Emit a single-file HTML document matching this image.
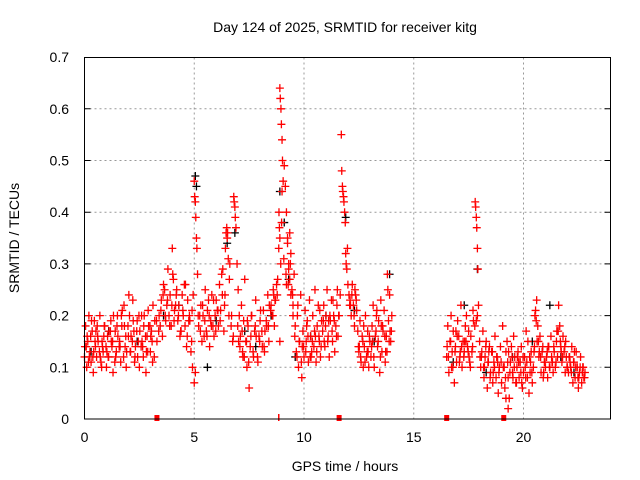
<!DOCTYPE html>
<html><head><meta charset="utf-8"><style>
body{margin:0;background:#fff}
svg{display:block;font-family:"Liberation Sans",sans-serif}
</style></head><body>
<svg id="chart" width="640" height="480" viewBox="0 0 640 480" xmlns="http://www.w3.org/2000/svg">
<rect width="640" height="480" fill="#fff"/>
<text x="345" y="32" font-size="14" text-anchor="middle">Day 124 of 2025, SRMTID for receiver kitg</text>
<g id="grid"></g>
<g id="ticks"></g>
<g id="marks"></g>
<rect x="84.5" y="57.5" width="526" height="361.5" fill="none" stroke="#000" stroke-width="1"/>
<text x="345" y="471" font-size="14" text-anchor="middle">GPS time / hours</text>
<text transform="translate(19,238) rotate(-90)" font-size="14" text-anchor="middle">SRMTID / TECUs</text>
</svg>
<script>
const xTicks=[0,5,10,15,20];
const yTicks=[0,0.1,0.2,0.3,0.4,0.5,0.6,0.7];
const yTickLabels=["0","0.1","0.2","0.3","0.4","0.5","0.6","0.7"];
const redT=[
0,0.05,0.1,0.15,0.2,0.25,0.3,0.35,0.4,0.45,0.5,0.55,0.6,0.7,0.75,0.8,0.85,0.9,1.0,1.05,1.1,1.2,1.25,1.3,1.4,1.45,1.5,1.6,1.65,1.7,1.8,1.85,1.9,2.0,2.05,2.1,2.2,2.25,2.3,2.4,2.45,2.5,2.6,2.65,2.7,2.8,2.85,2.9,3.0,3.05,3.1,3.2,3.3,
0.02,0.12,0.22,0.32,0.42,0.52,0.62,0.72,0.82,0.92,1.02,1.12,1.22,1.32,1.42,1.52,1.62,1.72,1.82,1.92,2.02,2.12,2.22,2.32,2.42,2.52,2.62,2.72,2.82,2.92,3.02,3.12,
3.4,3.5,3.55,3.6,3.7,3.75,3.8,3.9,3.95,4.0,4.05,4.1,4.2,4.25,4.3,4.4,4.45,4.5,4.6,4.65,4.7,4.8,4.85,4.9,4.95,
3.45,3.65,3.85,4.02,4.15,4.35,4.55,4.75,4.92,
5.0,5.02,5.05,5.07,5.1,5.12,5.15,5.0,5.05,
5.2,5.3,5.35,5.4,5.5,5.55,5.6,5.7,5.75,5.8,5.9,5.95,6.0,6.1,6.15,6.2,6.3,6.35,6.4,6.45,6.5,6.55,6.6,6.7,6.75,
5.25,5.45,5.65,5.85,6.05,6.25,6.42,6.48,6.52,6.62,
6.8,6.82,6.85,6.87,6.9,6.95,7.0,7.05,7.1,7.15,7.2,7.25,7.3,7.35,7.4,7.45,7.5,7.55,7.6,7.7,7.75,7.8,7.9,7.95,8.0,8.1,8.15,8.2,8.3,8.35,8.4,8.5,8.55,8.6,8.65,8.7,8.75,
7.02,7.22,7.42,7.62,7.82,8.02,8.22,8.42,8.62,8.8,
8.85,8.88,8.9,8.92,8.95,8.97,9.0,9.02,9.05,8.86,8.9,8.94,8.98,9.0,8.9,
9.1,9.15,9.2,9.25,9.3,9.35,9.4,9.45,9.5,9.55,9.2,9.25,9.3,9.35,9.4,9.5,
9.6,9.65,9.7,9.75,9.8,9.85,9.9,9.95,10.0,10.05,10.1,10.15,10.2,10.25,10.3,10.35,10.4,10.45,10.5,10.55,10.6,10.65,10.7,10.75,10.8,
9.72,9.92,10.12,10.32,10.52,10.72,
10.85,10.9,10.95,11.0,11.05,11.1,11.15,11.2,11.25,11.3,11.35,11.4,11.45,11.5,11.55,11.6,11.65,
10.92,11.12,11.32,11.52,
11.7,11.72,11.75,11.77,11.8,11.82,11.85,11.88,11.9,11.92,11.95,11.98,12.0,12.05,
12.1,12.15,12.2,12.25,12.3,12.35,12.4,12.45,12.5,12.55,12.6,12.65,12.7,12.75,12.8,12.85,12.9,12.95,13.0,
12.12,12.32,12.52,12.72,12.92,
13.05,13.1,13.15,13.2,13.25,13.3,13.35,13.4,13.45,13.5,13.55,13.6,13.65,13.7,13.75,13.8,13.85,13.9,13.95,14.0,
13.12,13.32,13.52,13.72,13.82,13.92,
16.5,16.55,16.6,16.65,16.7,16.75,16.8,16.85,16.9,16.95,17.0,17.05,17.1,17.15,17.2,17.25,17.3,17.35,17.4,17.45,17.5,17.55,17.6,17.65,17.7,
16.52,16.72,16.92,17.12,17.32,17.52,17.72,
17.8,17.82,17.85,17.87,17.9,17.92,17.95,17.85,17.9,
18.0,18.05,18.1,18.15,18.2,18.25,18.3,18.35,18.4,18.45,18.5,18.55,18.6,18.65,18.7,18.75,18.8,18.85,18.9,18.95,19.0,
18.02,18.22,18.42,18.62,18.82,
19.05,19.1,19.15,19.2,19.25,19.3,19.35,19.4,19.45,19.5,19.55,19.6,19.65,19.7,19.75,19.8,19.85,19.9,19.95,20.0,
19.12,19.32,19.52,19.72,19.92,19.3,19.2,
20.05,20.1,20.15,20.2,20.25,20.3,20.35,20.4,20.45,20.5,20.55,20.6,20.65,20.7,20.75,20.8,20.85,20.9,20.95,21.0,
20.12,20.32,20.52,20.62,20.72,20.92,
21.05,21.1,21.15,21.2,21.25,21.3,21.35,21.4,21.45,21.5,21.55,21.6,21.65,21.7,21.75,21.8,21.85,21.9,21.95,22.0,
21.12,21.32,21.52,21.72,21.92,
22.05,22.1,22.15,22.2,22.25,22.3,22.35,22.4,22.45,22.5,22.55,22.6,22.65,22.7,22.75,22.8,
22.12,22.32,22.52,22.72
];
const redV=[
0.12,0.18,0.1,0.15,0.2,0.13,0.11,0.17,0.09,0.19,0.14,0.12,0.16,0.2,0.11,0.15,0.13,0.18,0.1,0.16,0.12,0.19,0.14,0.09,0.17,0.13,0.2,0.15,0.11,0.18,0.22,0.14,0.1,0.16,0.2,0.13,0.23,0.17,0.12,0.19,0.15,0.1,0.2,0.14,0.18,0.09,0.16,0.21,0.13,0.17,0.11,0.19,0.15,
0.14,0.16,0.12,0.19,0.13,0.17,0.15,0.12,0.14,0.18,0.13,0.17,0.15,0.2,0.12,0.16,0.14,0.21,0.18,0.13,0.24,0.16,0.19,0.14,0.12,0.17,0.15,0.2,0.13,0.18,0.16,0.22,
0.2,0.23,0.16,0.26,0.19,0.22,0.29,0.24,0.18,0.33,0.27,0.21,0.25,0.19,0.22,0.17,0.24,0.2,0.26,0.14,0.23,0.19,0.13,0.21,0.24,
0.18,0.25,0.2,0.28,0.22,0.16,0.26,0.19,0.1,
0.46,0.43,0.42,0.39,0.35,0.33,0.28,0.07,0.09,
0.18,0.22,0.15,0.2,0.25,0.17,0.21,0.14,0.19,0.24,0.16,0.2,0.23,0.18,0.26,0.21,0.29,0.17,0.24,0.36,0.35,0.31,0.27,0.2,0.15,
0.2,0.16,0.23,0.18,0.21,0.28,0.33,0.37,0.36,0.3,
0.43,0.42,0.41,0.39,0.37,0.3,0.25,0.2,0.16,0.22,0.13,0.19,0.27,0.15,0.1,0.18,0.06,0.14,0.2,0.12,0.17,0.23,0.11,0.16,0.19,0.14,0.21,0.13,0.18,0.24,0.15,0.22,0.2,0.25,0.18,0.23,0.26,
0.15,0.12,0.19,0.2,0.16,0.21,0.17,0.22,0.24,0.27,
0.33,0.37,0.64,0.62,0.6,0.57,0.54,0.5,0.46,0.4,0.35,0.3,0.38,0.44,0.15,
0.49,0.45,0.4,0.35,0.3,0.27,0.32,0.25,0.22,0.28,0.26,0.34,0.29,0.36,0.24,0.2,
0.18,0.13,0.2,0.1,0.15,0.24,0.08,0.17,0.12,0.21,0.15,0.19,0.11,0.23,0.16,0.13,0.2,0.14,0.25,0.11,0.18,0.22,0.15,0.12,0.19,
0.22,0.14,0.18,0.12,0.16,0.21,
0.17,0.22,0.14,0.2,0.25,0.16,0.12,0.19,0.23,0.15,0.2,0.13,0.18,0.22,0.16,0.2,0.24,
0.15,0.19,0.23,0.25,
0.55,0.48,0.45,0.44,0.43,0.42,0.4,0.38,0.32,0.3,0.29,0.33,0.26,0.24,
0.23,0.2,0.26,0.22,0.18,0.24,0.21,0.17,0.13,0.19,0.11,0.16,0.1,0.14,0.2,0.12,0.17,0.1,0.15,
0.22,0.25,0.14,0.18,0.13,
0.12,0.18,0.22,0.1,0.16,0.2,0.14,0.19,0.09,0.23,0.13,0.17,0.21,0.11,0.16,0.28,0.19,0.24,0.15,0.2,
0.15,0.21,0.18,0.13,0.25,0.17,
0.12,0.18,0.09,0.15,0.2,0.13,0.17,0.07,0.14,0.11,0.19,0.16,0.12,0.22,0.1,0.15,0.13,0.18,0.2,0.14,0.17,0.11,0.16,0.13,0.21,
0.14,0.1,0.17,0.13,0.15,0.12,0.19,
0.42,0.41,0.39,0.37,0.33,0.29,0.22,0.19,0.2,
0.15,0.1,0.13,0.17,0.08,0.12,0.15,0.06,0.11,0.14,0.09,0.13,0.07,0.11,0.16,0.08,0.12,0.05,0.1,0.14,0.07,
0.12,0.1,0.13,0.09,0.11,
0.18,0.1,0.06,0.13,0.15,0.08,0.04,0.11,0.14,0.09,0.16,0.12,0.07,0.1,0.13,0.08,0.11,0.14,0.06,0.09,
0.1,0.13,0.08,0.12,0.07,0.02,0.04,
0.12,0.08,0.11,0.15,0.05,0.09,0.13,0.07,0.1,0.14,0.21,0.23,0.18,0.12,0.16,0.09,0.13,0.08,0.11,0.1,
0.17,0.11,0.2,0.15,0.13,0.09,
0.12,0.08,0.14,0.1,0.16,0.11,0.09,0.13,0.1,0.15,0.12,0.22,0.18,0.14,0.11,0.16,0.13,0.09,0.12,0.1,
0.14,0.11,0.17,0.13,0.15,
0.09,0.12,0.1,0.14,0.07,0.11,0.08,0.13,0.1,0.06,0.09,0.12,0.07,0.1,0.08,0.09,
0.11,0.13,0.08,0.1
];
const red2T=[
0.08,0.18,0.28,0.38,0.48,0.58,0.68,0.78,0.88,0.98,1.08,1.18,1.28,1.38,1.48,1.58,1.68,1.78,1.88,1.98,2.08,2.18,2.28,2.38,2.48,2.58,2.68,2.78,2.88,2.98,3.08,3.18,3.28,3.38,3.48,3.58,3.68,3.78,3.88,3.98,4.08,4.18,4.28,4.38,4.48,4.58,4.68,4.78,4.88,
5.18,5.28,5.38,5.48,5.58,5.68,5.78,5.88,5.98,6.08,6.18,6.28,6.38,6.58,6.68,6.78,6.98,7.08,7.18,7.28,7.38,7.48,7.58,7.68,7.78,7.88,7.98,8.08,8.18,8.28,8.38,8.48,8.58,8.68,8.78,
9.08,9.18,9.28,9.38,9.48,9.58,9.68,9.78,9.88,9.98,10.08,10.18,10.28,10.38,10.48,10.58,10.68,10.78,10.88,10.98,11.08,11.18,11.28,11.38,11.48,11.58,
12.08,12.18,12.28,12.38,12.48,12.58,12.68,12.78,12.88,12.98,13.08,13.18,13.28,13.38,13.48,13.58,13.68,13.78,13.88,13.98,
16.58,16.68,16.78,16.88,16.98,17.08,17.18,17.28,17.38,17.48,17.58,17.68,17.78,18.08,18.18,18.28,18.38,18.48,18.58,18.68,18.78,18.88,18.98,19.08,19.18,19.28,19.38,19.48,19.58,19.68,19.78,19.88,19.98,20.08,20.18,20.28,20.38,20.48,20.58,20.68,20.78,20.88,20.98,21.08,21.18,21.28,21.38,21.48,21.58,21.68,21.78,21.88,21.98,22.08,22.18,22.28,22.38,22.48,22.58,22.68,22.78
];
const red2V=[
0.14,0.11,0.16,0.12,0.15,0.18,0.13,0.1,0.16,0.14,0.12,0.17,0.15,0.11,0.18,0.14,0.2,0.12,0.16,0.18,0.13,0.15,0.11,0.17,0.2,0.14,0.12,0.16,0.13,0.18,0.15,0.12,0.19,0.17,0.21,0.24,0.2,0.23,0.18,0.22,0.19,0.24,0.2,0.17,0.21,0.18,0.16,0.2,0.15,
0.2,0.17,0.22,0.19,0.16,0.2,0.18,0.23,0.17,0.21,0.19,0.24,0.22,0.2,0.18,0.16,0.18,0.14,0.17,0.12,0.15,0.11,0.16,0.13,0.18,0.12,0.15,0.17,0.14,0.19,0.18,0.21,0.2,0.23,0.24,
0.31,0.28,0.26,0.3,0.24,0.16,0.12,0.15,0.11,0.14,0.13,0.16,0.12,0.15,0.17,0.13,0.16,0.14,0.19,0.18,0.15,0.2,0.17,0.19,0.16,0.2,
0.22,0.24,0.2,0.23,0.14,0.12,0.15,0.11,0.13,0.16,0.14,0.12,0.17,0.15,0.12,0.18,0.16,0.13,0.15,0.17,
0.12,0.15,0.1,0.13,0.16,0.11,0.14,0.12,0.15,0.13,0.1,0.14,0.18,0.12,0.1,0.14,0.11,0.08,0.13,0.1,0.12,0.09,0.11,0.1,0.08,0.11,0.09,0.12,0.1,0.07,0.11,0.09,0.12,0.1,0.08,0.12,0.09,0.13,0.19,0.15,0.12,0.14,0.11,0.13,0.1,0.12,0.14,0.11,0.17,0.15,0.12,0.14,0.1,0.12,0.09,0.11,0.1,0.08,0.1,0.09,0.08
];
const blackT=[0.3,1.1,2.4,3.6,4.3,5.05,5.1,5.6,6.0,6.5,6.85,7.3,7.8,8.5,8.9,9.1,9.3,9.6,10.3,11.0,11.9,12.3,13.2,13.9,16.8,17.3,17.9,18.3,19.5,20.4,21.2,21.7,22.3];
const blackV=[0.13,0.17,0.15,0.2,0.22,0.47,0.45,0.1,0.19,0.34,0.36,0.17,0.14,0.2,0.44,0.38,0.27,0.12,0.16,0.2,0.39,0.21,0.15,0.28,0.11,0.22,0.29,0.09,0.12,0.15,0.22,0.12,0.09];
const markerT=[3.3,11.6,16.5,19.1];
const thinMarkerT=[8.85];

const X0=84.5,PX=21.95,Y0=419,PY=517;
const xs=t=>X0+t*PX, ys=v=>Y0-v*PY;
const NS="http://www.w3.org/2000/svg";
function mk(tag,attrs,parent){const e=document.createElementNS(NS,tag);for(const k in attrs)e.setAttribute(k,attrs[k]);parent.appendChild(e);return e;}
const grid=document.getElementById('grid'),ticks=document.getElementById('ticks'),marks=document.getElementById('marks');
xTicks.forEach(t=>{
  if(t>0){const g=mk('line',{x1:xs(t),x2:xs(t),y1:57.5,y2:419,stroke:'#999','stroke-dasharray':'2,3'},grid);
  
  }
  const l=mk('text',{x:xs(t),y:442,'font-size':14,'text-anchor':'middle'},ticks);
  l.textContent=String(t);
  
  
});
yTicks.forEach((v,i)=>{
  if(v>0&&v<0.7){const g=mk('line',{x1:84.5,x2:610.5,y1:ys(v),y2:ys(v),stroke:'#999','stroke-dasharray':'2,3'},grid);
  
  
  const tk=mk('path',{d:`M84.5 ${ys(v)}h6M610.5 ${ys(v)}h-6`,stroke:'#000'},ticks);
  
  }
  const l=mk('text',{x:69,y:ys(v)+5,'font-size':14,'text-anchor':'end'},ticks);
  l.textContent=yTickLabels[i];
  
  
});
function plus(t,v,color,name){
  const x=xs(t),y=ys(v);
  const p=mk('path',{d:`M${x-4} ${y}h8M${x} ${y-4}v8`,stroke:color,'stroke-width':1.3,fill:'none'},marks);
  
  
}
blackT.forEach((t,i)=>plus(t,blackV[i],'#000','black-point'));
redT.forEach((t,i)=>plus(t,redV[i],'#f00','red-point'));
red2T.forEach((t,i)=>plus(t,red2V[i],'#f00','red-point'));
markerT.forEach(t=>{
  const r=mk('rect',{x:xs(t)-2.5,y:415,width:5,height:6,fill:'#f00'},marks);
  
  
});
thinMarkerT.forEach(t=>{
  const r=mk('rect',{x:xs(t)-0.75,y:414,width:1.5,height:7,fill:'#f00'},marks);
  
  
});
</script>
</body></html>
